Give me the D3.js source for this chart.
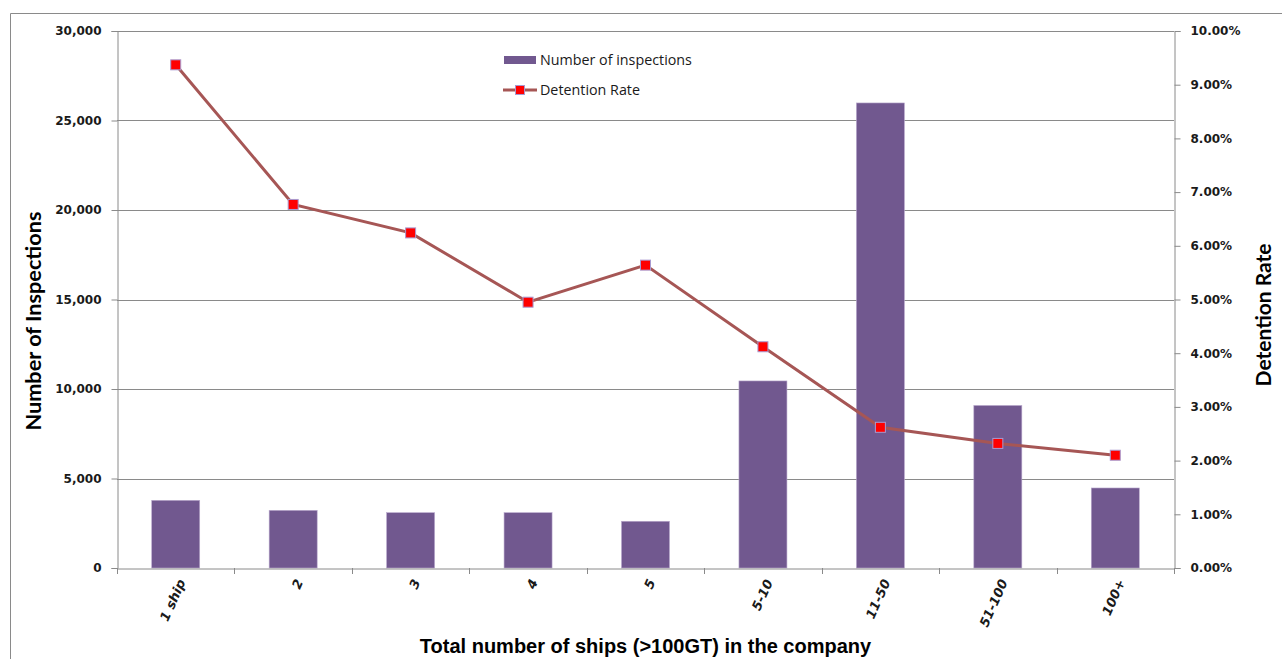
<!DOCTYPE html>
<html><head><meta charset="utf-8">
<script src="https://cdn.jsdelivr.net/npm/d3@7"></script>
<style>body{margin:0;background:#fff}svg{display:block}</style>
</head><body>
<svg id="c" width="1282" height="659"></svg>
<script>
const categories = ["1 ship","2","3","4","5","5-10","11-50","51-100","100+"];
const inspections = [3780,3220,3090,3090,2610,10450,25980,9080,4470];
const detentionRate = [9.37,6.77,6.24,4.95,5.64,4.12,2.62,2.32,2.10];
const leftTicks = [0,5000,10000,15000,20000,25000,30000];
const rightTicks = [0,1,2,3,4,5,6,7,8,9,10];

const svg = d3.select("#c");
const L=117,T=31,R=1174,B=568;
const x = d3.scaleBand().domain(categories).range([L,R]).paddingInner(0).paddingOuter(0);
const yL = d3.scaleLinear().domain([0,30000]).range([B,T]);
const yR = d3.scaleLinear().domain([0,10]).range([B,T]);
const grey="#8a8a8a";

// outer frame
svg.append("path").attr("d","M10.5,700V13.5H1290").attr("fill","none").attr("stroke",grey).attr("stroke-width",1);

// gridlines
svg.append("g").selectAll("line").data(leftTicks.filter(d=>d>0)).join("line")
  .attr("x1",L).attr("x2",R).attr("y1",d=>Math.round(yL(d))+0.5).attr("y2",d=>Math.round(yL(d))+0.5)
  .attr("stroke",grey).attr("stroke-width",1);

// bars
const bw = 48;
svg.append("g").selectAll("rect").data(inspections).join("rect")
  .attr("x",(d,i)=>x(categories[i])+x.bandwidth()/2-bw/2)
  .attr("y",d=>yL(d)).attr("width",bw).attr("height",d=>B-yL(d))
  .attr("fill","#71588F").attr("stroke","#b8a8cc").attr("stroke-width",0.6);

// left axis
const axL = svg.append("g").attr("transform",`translate(${L+0.5},0)`)
  .call(d3.axisLeft(yL).tickValues(leftTicks).tickSize(6).tickFormat(d3.format(",")));
// right axis
const axR = svg.append("g").attr("transform",`translate(${R+0.5},0)`)
  .call(d3.axisRight(yR).tickValues(rightTicks).tickSize(6).tickFormat(d=>d3.format(".2f")(d)+"%"));
// bottom axis
const axB = svg.append("g").attr("transform",`translate(0,${B+0.5})`)
  .call(d3.axisBottom(x).tickSize(0).tickFormat(""));
svg.append("g").selectAll("line").data(d3.range(categories.length+1)).join("line")
  .attr("x1",i=>Math.round(L+i*x.bandwidth())+0.5).attr("x2",i=>Math.round(L+i*x.bandwidth())+0.5)
  .attr("y1",B).attr("y2",B+6).attr("stroke",grey);

[axL,axR,axB].forEach(a=>{
  a.select(".domain").attr("stroke",grey);
  a.selectAll(".tick line").attr("stroke",grey);
  a.selectAll("text").attr("font-family","DejaVu Sans").attr("font-weight","bold").attr("font-size",12).attr("fill","#1a1a1a");
});
axL.selectAll(".tick text").attr("x",-16);
axR.selectAll(".tick text").attr("x",16);

// x labels rotated
svg.append("g").selectAll("text").data(categories).join("text")
  .attr("transform",d=>`translate(${x(d)+x.bandwidth()/2+6},${B+12}) rotate(-66)`)
  .attr("text-anchor","end").attr("dy","0.35em")
  .attr("font-family","DejaVu Sans").attr("font-weight","bold").attr("font-style","italic")
  .attr("font-size",13).attr("fill","#1a1a1a").text(d=>d);

// line
const line = d3.line().x((d,i)=>x(categories[i])+x.bandwidth()/2).y(d=>yR(d));
svg.append("path").datum(detentionRate).attr("d",line).attr("fill","none")
  .attr("stroke","#A65655").attr("stroke-width",3);
svg.append("g").selectAll("rect").data(detentionRate).join("rect")
  .attr("x",(d,i)=>x(categories[i])+x.bandwidth()/2-5).attr("y",d=>yR(d)-5)
  .attr("width",10).attr("height",10).attr("fill","#FF0000").attr("stroke","#A89AD0").attr("stroke-width",1);

// legend
svg.append("rect").attr("x",504).attr("y",56).attr("width",32).attr("height",8).attr("fill","#71588F");
svg.append("text").attr("x",540).attr("y",60).attr("dy","0.35em").attr("font-family","Open Sans")
  .attr("font-size",14.3).attr("fill","#1a1a1a").text("Number of inspections");
svg.append("line").attr("x1",503).attr("x2",537).attr("y1",90).attr("y2",90).attr("stroke","#A65655").attr("stroke-width",3);
svg.append("rect").attr("x",515.5).attr("y",85.5).attr("width",9).attr("height",9).attr("fill","#FF0000").attr("stroke","#A89AD0");
svg.append("text").attr("x",540).attr("y",90).attr("dy","0.35em").attr("font-family","Open Sans")
  .attr("font-size",14.3).attr("fill","#1a1a1a").text("Detention Rate");

// titles
svg.append("text").attr("transform","translate(41,321) rotate(-90)").attr("text-anchor","middle")
  .attr("font-family","Lato").attr("font-weight","bold").attr("font-size",21.7).attr("fill","#000").text("Number of Inspections");
svg.append("text").attr("transform","translate(1271,315) rotate(-90)").attr("text-anchor","middle")
  .attr("font-family","Lato").attr("font-weight","bold").attr("font-size",21).attr("fill","#000").text("Detention Rate");
svg.append("text").attr("x",645.5).attr("y",653).attr("text-anchor","middle")
  .attr("font-family","Liberation Sans").attr("font-weight","bold").attr("font-size",20).attr("fill","#000")
  .text("Total number of ships (>100GT) in the company");
</script>
</body></html>
